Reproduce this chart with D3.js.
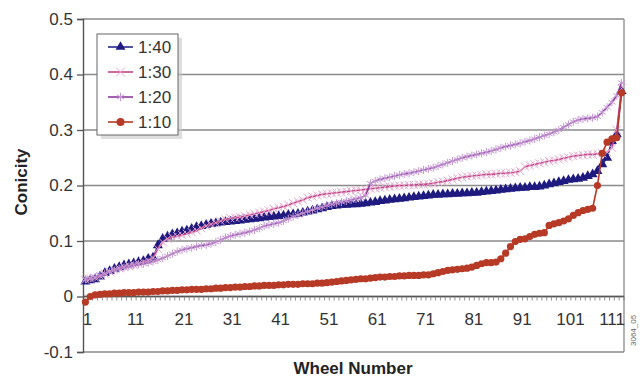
<!DOCTYPE html>
<html>
<head>
<meta charset="utf-8">
<script src="https://cdn.jsdelivr.net/npm/d3@7"></script>
<style>
  body { margin: 0; background: #fff; }
  svg { font-family: "Liberation Sans", Arial, sans-serif; }
</style>
</head>
<body>
<svg id="chart" width="643" height="377"></svg>
<script>
// wheel numbers 1..112
const wheels = d3.range(1, 113);
const xTickLabels = [1, 11, 21, 31, 41, 51, 61, 71, 81, 91, 101, 111];
const yTicks = [-0.1, 0, 0.1, 0.2, 0.3, 0.4, 0.5];

const taper40 = [0.027,0.029,0.031,0.036,0.042,0.046,0.050,0.053,0.056,0.058,
  0.060,0.062,0.064,0.068,0.070,0.092,0.104,0.108,0.112,0.114,
  0.117,0.119,0.122,0.125,0.127,0.129,0.131,0.132,0.133,0.134,
  0.135,0.136,0.137,0.138,0.139,0.140,0.141,0.142,0.143,0.144,
  0.145,0.146,0.147,0.148,0.149,0.151,0.153,0.155,0.157,0.159,
  0.161,0.163,0.164,0.165,0.165,0.166,0.166,0.167,0.168,0.169,
  0.170,0.172,0.173,0.174,0.175,0.176,0.177,0.178,0.179,0.180,
  0.181,0.182,0.183,0.183,0.184,0.184,0.185,0.185,0.186,0.186,
  0.187,0.187,0.188,0.189,0.190,0.191,0.192,0.193,0.194,0.195,
  0.196,0.196,0.197,0.197,0.198,0.200,0.202,0.204,0.206,0.208,
  0.210,0.211,0.212,0.214,0.217,0.220,0.226,0.238,0.250,0.280,
  0.292,0.370];

const taper30 = [0.030,0.032,0.034,0.037,0.041,0.045,0.048,0.051,0.053,0.055,
  0.057,0.059,0.062,0.065,0.070,0.086,0.098,0.104,0.107,0.109,
  0.111,0.113,0.116,0.119,0.123,0.127,0.130,0.133,0.136,0.139,
  0.141,0.142,0.143,0.145,0.147,0.149,0.151,0.153,0.155,0.158,
  0.160,0.162,0.165,0.168,0.171,0.174,0.178,0.180,0.182,0.184,
  0.185,0.186,0.187,0.188,0.189,0.190,0.191,0.192,0.193,0.194,
  0.195,0.196,0.197,0.198,0.199,0.200,0.200,0.201,0.201,0.202,
  0.202,0.203,0.204,0.206,0.207,0.209,0.211,0.213,0.215,0.216,
  0.217,0.218,0.219,0.220,0.220,0.221,0.222,0.222,0.223,0.224,
  0.226,0.234,0.236,0.238,0.240,0.242,0.244,0.245,0.247,0.249,
  0.251,0.253,0.254,0.255,0.256,0.256,0.257,0.258,0.260,0.268,
  0.300,0.375];

const taper20 = [0.031,0.033,0.035,0.038,0.041,0.044,0.047,0.050,0.052,0.054,
  0.056,0.058,0.059,0.061,0.063,0.066,0.069,0.073,0.077,0.081,
  0.084,0.086,0.088,0.090,0.092,0.093,0.095,0.098,0.102,0.106,
  0.109,0.111,0.113,0.115,0.117,0.120,0.123,0.127,0.129,0.131,
  0.133,0.136,0.140,0.144,0.147,0.150,0.153,0.156,0.159,0.161,
  0.164,0.166,0.168,0.170,0.172,0.174,0.176,0.178,0.182,0.204,
  0.208,0.211,0.213,0.215,0.217,0.219,0.221,0.222,0.224,0.226,
  0.228,0.230,0.232,0.235,0.238,0.241,0.244,0.247,0.250,0.252,
  0.254,0.256,0.258,0.260,0.262,0.265,0.268,0.270,0.272,0.274,
  0.276,0.279,0.281,0.284,0.287,0.290,0.293,0.296,0.300,0.305,
  0.310,0.315,0.318,0.320,0.321,0.322,0.324,0.332,0.341,0.350,
  0.362,0.385];

const taper10 = [-0.010,0.000,0.003,0.004,0.005,0.005,0.006,0.006,0.007,0.007,
  0.007,0.008,0.008,0.008,0.009,0.009,0.010,0.010,0.011,0.011,
  0.012,0.012,0.013,0.013,0.013,0.014,0.014,0.015,0.015,0.016,
  0.016,0.017,0.017,0.018,0.018,0.019,0.019,0.020,0.020,0.020,
  0.021,0.021,0.022,0.022,0.022,0.023,0.023,0.023,0.024,0.024,
  0.025,0.026,0.027,0.028,0.029,0.030,0.031,0.032,0.032,0.033,
  0.034,0.035,0.035,0.036,0.036,0.037,0.037,0.038,0.038,0.038,
  0.039,0.039,0.041,0.043,0.045,0.047,0.048,0.049,0.050,0.051,
  0.053,0.056,0.059,0.061,0.061,0.062,0.068,0.078,0.090,0.099,
  0.103,0.104,0.108,0.112,0.114,0.115,0.128,0.131,0.133,0.136,
  0.140,0.146,0.151,0.155,0.157,0.159,0.200,0.258,0.278,0.284,
  0.286,0.367];

const series = [
  { name: '1:40', values: taper40, line: '#28288a', marker: 'triangle', mColor: '#1e1a80' },
  { name: '1:30', values: taper30, line: '#c2468c', marker: 'x', mColor: '#e6a6cc' },
  { name: '1:20', values: taper20, line: '#8c3a9c', marker: 'asterisk', mColor: '#c497d4' },
  { name: '1:10', values: taper10, line: '#b63a26', marker: 'circle', mColor: '#b63a26' }
];

const svg = d3.select('#chart');
const plotLeft = 83, plotRight = 624, plotTop = 19, plotBottom = 352;

const x = d3.scalePoint().domain(wheels).range([plotLeft, plotRight]).padding(0.5);
const xBand = d3.scaleBand().domain(wheels).range([plotLeft, plotRight]);
const y = d3.scaleLinear().domain([-0.1, 0.5]).range([plotBottom, plotTop]);

// gridlines
svg.append('g')
  .selectAll('line')
  .data(yTicks)
  .join('line')
  .attr('x1', plotLeft).attr('x2', plotRight)
  .attr('y1', d => y(d)).attr('y2', d => y(d))
  .attr('stroke', '#8a8a8a')
  .attr('stroke-width', 1.3);

// right border
svg.append('line')
  .attr('x1', plotRight).attr('x2', plotRight).attr('y1', plotTop).attr('y2', plotBottom)
  .attr('stroke', '#8a8a8a').attr('stroke-width', 1.3);

// y axis (plain hyphen for negatives, like the original)
const yAxis = svg.append('g')
  .attr('transform', `translate(${plotLeft},0)`)
  .call(d3.axisLeft(y).tickValues(yTicks).tickSize(6).tickPadding(4)
    .tickFormat(d => d === 0 ? '0' : d.toFixed(1)));
yAxis.select('.domain').attr('stroke', '#555').attr('stroke-width', 1.4);
yAxis.selectAll('.tick line').attr('stroke', '#555').attr('stroke-width', 1.3);
yAxis.selectAll('text').attr('font-size', 17).attr('fill', '#333');

// x axis at zero, with a small tick between every wheel
const xAxis = svg.append('g').attr('transform', `translate(0,${y(0)})`);
xAxis.append('line')
  .attr('x1', plotLeft).attr('x2', plotRight)
  .attr('stroke', '#555').attr('stroke-width', 1.3);
xAxis.selectAll('.minor')
  .data(wheels)
  .join('line')
  .attr('class', 'minor')
  .attr('x1', d => xBand(d) + xBand.step()).attr('x2', d => xBand(d) + xBand.step())
  .attr('y1', 0).attr('y2', 4)
  .attr('stroke', '#777').attr('stroke-width', 0.8);
const lastLabel = xTickLabels[xTickLabels.length - 1];
xAxis.selectAll('.lab')
  .data(xTickLabels)
  .join('text')
  .attr('class', 'lab')
  .attr('x', d => d === lastLabel ? plotRight + 1 : x(d) + 2)
  .attr('y', 28)
  .attr('text-anchor', d => d === lastLabel ? 'end' : 'middle')
  .attr('font-size', 17)
  .attr('fill', '#333')
  .text(d => d);

// series
const line = d3.line().x((d, i) => x(wheels[i])).y(d => y(d));
const symbolFor = { triangle: d3.symbolTriangle, x: d3.symbolX, asterisk: d3.symbolAsterisk };

function drawMarker(sel, s, size) {
  if (s.marker === 'circle') {
    sel.append('circle').attr('r', size === 'legend' ? 4 : 3.6).attr('fill', s.mColor);
  } else if (s.marker === 'triangle') {
    sel.append('path')
      .attr('d', d3.symbol(symbolFor.triangle, size === 'legend' ? 42 : 44)())
      .attr('fill', s.mColor);
  } else {
    sel.append('path')
      .attr('d', d3.symbol(symbolFor[s.marker], size === 'legend' ? 50 : 45)())
      .attr('fill', 'none').attr('stroke', s.mColor).attr('stroke-width', 1);
  }
}

series.forEach(s => {
  const g = svg.append('g');
  g.append('path')
    .datum(s.values)
    .attr('d', line)
    .attr('fill', 'none')
    .attr('stroke', s.line)
    .attr('stroke-width', 1.6);
  g.selectAll('g.pt')
    .data(s.values)
    .join('g')
    .attr('class', 'pt')
    .attr('transform', (d, i) => `translate(${x(wheels[i])},${y(d)})`)
    .each(function () { drawMarker(d3.select(this), s, 'plot'); });
});

// legend
const legend = svg.append('g').attr('transform', 'translate(97,34)');
legend.append('rect')
  .attr('x', 4).attr('y', 4).attr('width', 81).attr('height', 101)
  .attr('fill', '#c8c8c8').attr('opacity', 0.6);
legend.append('rect')
  .attr('width', 81).attr('height', 101)
  .attr('fill', '#fff').attr('stroke', '#666').attr('stroke-width', 1);
series.forEach((s, i) => {
  const row = legend.append('g').attr('transform', `translate(0,${13 + i * 25})`);
  row.append('line')
    .attr('x1', 11).attr('x2', 36)
    .attr('stroke', s.line).attr('stroke-width', 1.6);
  drawMarker(row.append('g').attr('transform', 'translate(23.5,0)'), s, 'legend');
  row.append('text')
    .attr('x', 41).attr('y', 6)
    .attr('font-size', 17)
    .attr('fill', '#333')
    .text(s.name);
});

// axis titles
svg.append('text')
  .attr('transform', 'translate(27,182) rotate(-90)')
  .attr('text-anchor', 'middle')
  .attr('font-size', 17)
  .attr('font-weight', 'bold')
  .attr('fill', '#222')
  .text('Conicity');

svg.append('text')
  .attr('x', 353).attr('y', 374)
  .attr('text-anchor', 'middle')
  .attr('font-size', 17)
  .attr('font-weight', 'bold')
  .attr('fill', '#222')
  .text('Wheel Number');

// figure id
svg.append('text')
  .attr('transform', 'translate(636,346) rotate(-90)')
  .attr('font-size', 8)
  .attr('fill', '#666')
  .text('3064_05');
</script>
</body>
</html>
